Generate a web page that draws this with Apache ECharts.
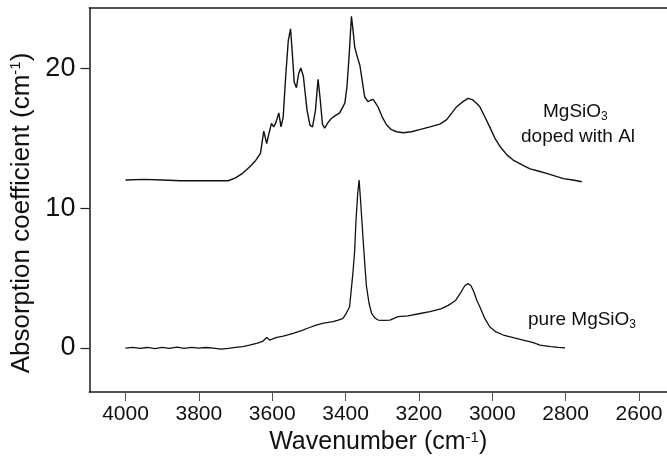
<!DOCTYPE html>
<html>
<head>
<meta charset="utf-8">
<script src="https://cdn.jsdelivr.net/npm/echarts@6/dist/echarts.min.js"></script>
<style>html,body{margin:0;padding:0;background:#fff;}#c{width:667px;height:469px;}</style>
</head>
<body>
<div id="c"></div>
<script>
// Wavenumber ticks and y ticks
const xTicks = [2600, 2800, 3000, 3200, 3400, 3600, 3800, 4000];
const yTicks = [0, 10, 20];

// MgSiO3 doped with Al (upper trace)
const dopedX = [4000,3950,3900,3850,3800,3760,3720,3700,3680,3661,3645,3632,3627,3623,3615,3610,3602,3596,3590,3582,3576,3570,3563,3556,3550,3545,3540,3534,3528,3522,3515,3505,3497,3490,3482,3475,3470,3463,3457,3448,3439,3428,3416,3402,3396,3390,3384,3380,3375,3368,3361,3354,3348,3339,3332,3325,3318,3311,3300,3288,3275,3261,3243,3220,3198,3170,3143,3125,3110,3097,3080,3066,3055,3043,3034,3020,3007,2993,2979,2960,2943,2920,2897,2875,2852,2830,2806,2780,2756];
const dopedY = [12.0,12.05,12.0,11.95,11.95,11.95,11.95,12.15,12.5,12.95,13.4,13.9,14.8,15.5,14.6,15.2,16.05,15.8,16.1,16.8,15.8,16.5,19.5,22.0,22.8,21.0,19.0,18.6,19.6,20.0,19.4,17.0,15.9,15.8,17.0,19.2,18.0,16.0,15.7,16.1,16.4,16.6,16.8,17.5,18.7,21.0,23.7,22.8,21.5,20.8,20.2,19.0,17.95,17.6,17.7,17.76,17.5,17.2,16.5,15.93,15.6,15.45,15.38,15.45,15.6,15.8,16.0,16.3,16.8,17.24,17.6,17.84,17.75,17.48,17.24,16.5,15.8,15.0,14.4,13.8,13.43,13.1,12.8,12.65,12.48,12.3,12.1,12.0,11.88];

// pure MgSiO3 (lower trace)
const pureX = [4000,3980,3960,3940,3920,3900,3880,3860,3840,3820,3800,3780,3760,3740,3720,3700,3680,3662,3640,3625,3615,3607,3590,3570,3555,3543,3520,3500,3480,3460,3434,3420,3407,3398,3389,3380,3375,3372,3367,3363,3359,3352,3347,3343,3336,3329,3320,3311,3295,3279,3257,3230,3200,3170,3140,3120,3100,3085,3075,3066,3058,3050,3042,3034,3020,3007,2990,2970,2940,2916,2890,2870,2840,2820,2802];
const pureY = [0,0.05,-0.03,0.04,-0.04,0.05,-0.03,0.06,-0.02,0.05,0.0,0.04,0.0,-0.08,-0.02,0.05,0.1,0.21,0.35,0.5,0.75,0.57,0.75,0.85,0.95,1.05,1.25,1.45,1.64,1.78,1.88,2.0,2.12,2.48,2.95,5.33,7.0,8.9,11.0,12.0,10.5,7.7,5.8,4.4,3.2,2.48,2.15,2.0,1.98,2.0,2.24,2.3,2.45,2.6,2.8,3.05,3.4,4.0,4.45,4.6,4.45,4.0,3.4,2.95,2.1,1.52,1.15,0.93,0.72,0.57,0.4,0.21,0.1,0.05,0.02];

const seriesNames = ['MgSiO3 doped with Al', 'pure MgSiO3'];

const chart = echarts.init(document.getElementById('c'), null, {renderer: 'canvas'});
const font = "'Liberation Sans', Arial, sans-serif";
const zip = (xs, ys) => xs.map((x, i) => [x, ys[i]]);
const supRich = {sup: {fontSize: 15, color: '#111', fontFamily: font, verticalAlign: 'top', padding: [0,0,10,0]}};

chart.setOption({
  animation: false,
  backgroundColor: '#fff',
  grid: {left: 89.4, top: 8, width: 577.6, height: 384, show: false, containLabel: false},
  xAxis: [{
    type: 'value', inverse: true, min: 2523.6, max: 4098.4, position: 'bottom',
    splitLine: {show: false},
    axisLine: {show: true, onZero: false, lineStyle: {color: '#1a1a1a', width: 1.5}},
    axisTick: {show: true, length: 9, customValues: xTicks, lineStyle: {color: '#555', width: 1}},
    axisLabel: {customValues: xTicks, margin: 12, fontSize: 21, color: '#111', fontFamily: font, formatter: v => String(v)},
    name: 'Wavenumber (cm{sup|-1})', nameLocation: 'middle', nameGap: 36,
    nameTextStyle: {fontSize: 25, color: '#111', fontFamily: font, rich: supRich}
  }, {
    type: 'value', inverse: true, min: 2523.6, max: 4098.4, position: 'top',
    splitLine: {show: false},
    axisLine: {show: true, onZero: false, lineStyle: {color: '#1a1a1a', width: 1.5}},
    axisTick: {show: false}, axisLabel: {show: false}
  }],
  yAxis: {
    type: 'value', min: -3.14, max: 24.29,
    splitLine: {show: false},
    axisLine: {show: true, onZero: false, lineStyle: {color: '#1a1a1a', width: 1.5}},
    axisTick: {show: true, length: 9, customValues: yTicks, lineStyle: {color: '#222', width: 1.2}},
    axisLabel: {customValues: yTicks, margin: 14, fontSize: 27, color: '#111', fontFamily: font, formatter: v => String(v)},
    name: 'Absorption coefficient (cm{sup|-1})', nameLocation: 'middle', nameGap: 47,
    nameTextStyle: {fontSize: 26, color: '#111', fontFamily: font, padding: [0, 26, 0, 0], rich: supRich}
  },
  series: [
    {name: seriesNames[0], type: 'line', xAxisIndex: 0, data: zip(dopedX, dopedY), showSymbol: false, lineStyle: {color: '#111', width: 1.4}, silent: true},
    {name: seriesNames[1], type: 'line', xAxisIndex: 0, data: zip(pureX, pureY), showSymbol: false, lineStyle: {color: '#111', width: 1.3}, silent: true}
  ],
  graphic: [
    {type: 'text', left: 543, top: 102, style: {text: 'MgSiO{s|3}', fill: '#111', font: "19px 'Liberation Sans', Arial, sans-serif", rich: {s: {fontSize: 12, fill: '#111', verticalAlign: 'bottom', padding: [10,0,0,0]}}}},
    {type: 'text', left: 521, top: 127, style: {text: 'doped with Al', fill: '#111', font: "19px 'Liberation Sans', Arial, sans-serif"}},
    {type: 'text', left: 528, top: 310, style: {text: 'pure MgSiO{s|3}', fill: '#111', font: "19px 'Liberation Sans', Arial, sans-serif", rich: {s: {fontSize: 12, fill: '#111', verticalAlign: 'bottom', padding: [10,0,0,0]}}}}
  ]
});
</script>
</body>
</html>
